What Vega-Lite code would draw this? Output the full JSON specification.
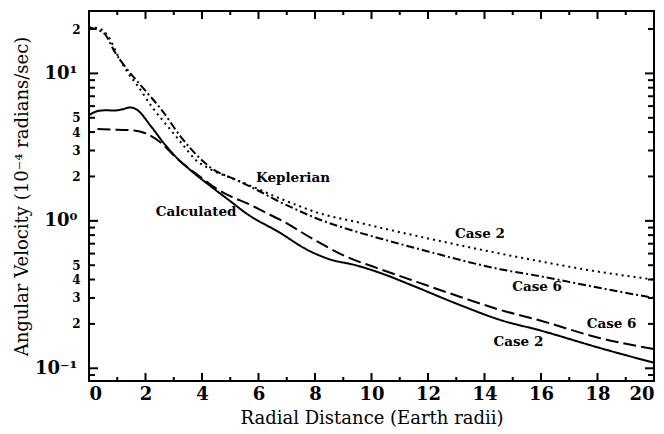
{
  "$schema": "https://vega.github.io/schema/vega-lite/v6.json",
  "width": 565,
  "height": 370,
  "autosize": "none",
  "padding": {"left": 89, "top": 11, "right": 10, "bottom": 53},
  "background": "white",
  "config": {
    "view": {"stroke": "black", "strokeWidth": 2},
    "font": "DejaVu Serif",
    "axis": {"domain": false, "grid": false, "ticks": false, "labelColor": "black", "titleColor": "black", "labelFont": "DejaVu Serif", "titleFont": "DejaVu Serif", "titleFontWeight": "normal"}
  },
  "datasets": {
    "curves": [
      {"series": "Case 2 Keplerian", "r": 0.0, "w": 20.5},
      {"series": "Case 2 Keplerian", "r": 0.32, "w": 20.3},
      {"series": "Case 2 Keplerian", "r": 0.68, "w": 17.8},
      {"series": "Case 2 Keplerian", "r": 1.04, "w": 13.0},
      {"series": "Case 2 Keplerian", "r": 1.39, "w": 10.0},
      {"series": "Case 2 Keplerian", "r": 1.75, "w": 8.1},
      {"series": "Case 2 Keplerian", "r": 2.22, "w": 5.96},
      {"series": "Case 2 Keplerian", "r": 2.69, "w": 4.6},
      {"series": "Case 2 Keplerian", "r": 3.28, "w": 3.36},
      {"series": "Case 2 Keplerian", "r": 3.75, "w": 2.62},
      {"series": "Case 2 Keplerian", "r": 4.3, "w": 2.24},
      {"series": "Case 2 Keplerian", "r": 5.2, "w": 1.9},
      {"series": "Case 2 Keplerian", "r": 6.0, "w": 1.64},
      {"series": "Case 2 Keplerian", "r": 6.6, "w": 1.46},
      {"series": "Case 2 Keplerian", "r": 7.35, "w": 1.28},
      {"series": "Case 2 Keplerian", "r": 8.0, "w": 1.15},
      {"series": "Case 2 Keplerian", "r": 9.59, "w": 0.97},
      {"series": "Case 2 Keplerian", "r": 10.3, "w": 0.9},
      {"series": "Case 2 Keplerian", "r": 12.0, "w": 0.76},
      {"series": "Case 2 Keplerian", "r": 14.55, "w": 0.6},
      {"series": "Case 2 Keplerian", "r": 16.0, "w": 0.53},
      {"series": "Case 2 Keplerian", "r": 18.1, "w": 0.45},
      {"series": "Case 2 Keplerian", "r": 20.0, "w": 0.4},

      {"series": "Case 6 Keplerian", "r": 0.0, "w": 20.5},
      {"series": "Case 6 Keplerian", "r": 0.3, "w": 19.8},
      {"series": "Case 6 Keplerian", "r": 0.57, "w": 18.4},
      {"series": "Case 6 Keplerian", "r": 0.92, "w": 13.9},
      {"series": "Case 6 Keplerian", "r": 1.33, "w": 10.8},
      {"series": "Case 6 Keplerian", "r": 1.98, "w": 7.7},
      {"series": "Case 6 Keplerian", "r": 2.57, "w": 5.66},
      {"series": "Case 6 Keplerian", "r": 3.28, "w": 3.65},
      {"series": "Case 6 Keplerian", "r": 3.87, "w": 2.72},
      {"series": "Case 6 Keplerian", "r": 4.3, "w": 2.3},
      {"series": "Case 6 Keplerian", "r": 5.2, "w": 1.9},
      {"series": "Case 6 Keplerian", "r": 6.0, "w": 1.6},
      {"series": "Case 6 Keplerian", "r": 6.6, "w": 1.39},
      {"series": "Case 6 Keplerian", "r": 7.35, "w": 1.19},
      {"series": "Case 6 Keplerian", "r": 8.0, "w": 1.05},
      {"series": "Case 6 Keplerian", "r": 9.59, "w": 0.83},
      {"series": "Case 6 Keplerian", "r": 10.3, "w": 0.76},
      {"series": "Case 6 Keplerian", "r": 12.0, "w": 0.62},
      {"series": "Case 6 Keplerian", "r": 14.55, "w": 0.47},
      {"series": "Case 6 Keplerian", "r": 16.0, "w": 0.42},
      {"series": "Case 6 Keplerian", "r": 18.1, "w": 0.35},
      {"series": "Case 6 Keplerian", "r": 20.0, "w": 0.3},

      {"series": "Case 6 Calculated", "r": 0.3, "w": 4.2},
      {"series": "Case 6 Calculated", "r": 1.0, "w": 4.15},
      {"series": "Case 6 Calculated", "r": 1.6, "w": 4.1},
      {"series": "Case 6 Calculated", "r": 2.0, "w": 3.93},
      {"series": "Case 6 Calculated", "r": 2.57, "w": 3.36},
      {"series": "Case 6 Calculated", "r": 3.04, "w": 2.73},
      {"series": "Case 6 Calculated", "r": 3.5, "w": 2.3},
      {"series": "Case 6 Calculated", "r": 4.0, "w": 1.95},
      {"series": "Case 6 Calculated", "r": 4.4, "w": 1.71},
      {"series": "Case 6 Calculated", "r": 5.0, "w": 1.47},
      {"series": "Case 6 Calculated", "r": 5.58, "w": 1.32},
      {"series": "Case 6 Calculated", "r": 6.4, "w": 1.1},
      {"series": "Case 6 Calculated", "r": 6.76, "w": 1.02},
      {"series": "Case 6 Calculated", "r": 7.94, "w": 0.75},
      {"series": "Case 6 Calculated", "r": 9.12, "w": 0.57},
      {"series": "Case 6 Calculated", "r": 10.18, "w": 0.48},
      {"series": "Case 6 Calculated", "r": 11.36, "w": 0.4},
      {"series": "Case 6 Calculated", "r": 13.1, "w": 0.307},
      {"series": "Case 6 Calculated", "r": 14.55, "w": 0.249},
      {"series": "Case 6 Calculated", "r": 16.0, "w": 0.21},
      {"series": "Case 6 Calculated", "r": 18.1, "w": 0.16},
      {"series": "Case 6 Calculated", "r": 20.0, "w": 0.135},

      {"series": "Case 2 Calculated", "r": 0.0, "w": 5.2},
      {"series": "Case 2 Calculated", "r": 0.3, "w": 5.55},
      {"series": "Case 2 Calculated", "r": 0.6, "w": 5.62},
      {"series": "Case 2 Calculated", "r": 0.9, "w": 5.6},
      {"series": "Case 2 Calculated", "r": 1.2, "w": 5.72},
      {"series": "Case 2 Calculated", "r": 1.45, "w": 5.88},
      {"series": "Case 2 Calculated", "r": 1.68, "w": 5.7},
      {"series": "Case 2 Calculated", "r": 2.2, "w": 4.36},
      {"series": "Case 2 Calculated", "r": 2.65, "w": 3.36},
      {"series": "Case 2 Calculated", "r": 3.12, "w": 2.66},
      {"series": "Case 2 Calculated", "r": 3.6, "w": 2.2},
      {"series": "Case 2 Calculated", "r": 4.3, "w": 1.72},
      {"series": "Case 2 Calculated", "r": 5.0, "w": 1.36},
      {"series": "Case 2 Calculated", "r": 5.58, "w": 1.12},
      {"series": "Case 2 Calculated", "r": 6.76, "w": 0.83},
      {"series": "Case 2 Calculated", "r": 7.7, "w": 0.64},
      {"series": "Case 2 Calculated", "r": 8.5, "w": 0.55},
      {"series": "Case 2 Calculated", "r": 9.44, "w": 0.5},
      {"series": "Case 2 Calculated", "r": 10.5, "w": 0.43},
      {"series": "Case 2 Calculated", "r": 11.36, "w": 0.37},
      {"series": "Case 2 Calculated", "r": 13.1, "w": 0.27},
      {"series": "Case 2 Calculated", "r": 14.55, "w": 0.213},
      {"series": "Case 2 Calculated", "r": 16.0, "w": 0.18},
      {"series": "Case 2 Calculated", "r": 18.1, "w": 0.137},
      {"series": "Case 2 Calculated", "r": 20.0, "w": 0.109}
    ],
    "labels": [
      {"text": "Keplerian", "r": 7.22, "w": 1.96},
      {"text": "Calculated", "r": 3.79, "w": 1.15},
      {"text": "Case 2", "r": 13.84, "w": 0.817},
      {"text": "Case 6", "r": 15.86, "w": 0.357},
      {"text": "Case 6", "r": 18.5, "w": 0.2},
      {"text": "Case 2", "r": 15.2, "w": 0.151}
    ],
    "yticks": [
      {"v": 20, "kind": "minor"}, {"v": 10, "kind": "major"}, {"v": 9, "kind": "minor"}, {"v": 8, "kind": "minor"},
      {"v": 7, "kind": "minor"}, {"v": 6, "kind": "minor"}, {"v": 5, "kind": "minor"}, {"v": 4, "kind": "minor"},
      {"v": 3, "kind": "minor"}, {"v": 2, "kind": "minor"}, {"v": 1, "kind": "major"}, {"v": 0.9, "kind": "minor"},
      {"v": 0.8, "kind": "minor"}, {"v": 0.7, "kind": "minor"}, {"v": 0.6, "kind": "minor"}, {"v": 0.5, "kind": "minor"},
      {"v": 0.4, "kind": "minor"}, {"v": 0.3, "kind": "minor"}, {"v": 0.2, "kind": "minor"}, {"v": 0.1, "kind": "major"},
      {"v": 0.09, "kind": "minor"}
    ],
    "xticks": [
      {"v": 0, "kind": "major"}, {"v": 1, "kind": "minor"}, {"v": 2, "kind": "major"}, {"v": 3, "kind": "minor"},
      {"v": 4, "kind": "major"}, {"v": 5, "kind": "minor"}, {"v": 6, "kind": "major"}, {"v": 7, "kind": "minor"},
      {"v": 8, "kind": "major"}, {"v": 9, "kind": "minor"}, {"v": 10, "kind": "major"}, {"v": 11, "kind": "minor"},
      {"v": 12, "kind": "major"}, {"v": 13, "kind": "minor"}, {"v": 14, "kind": "major"}, {"v": 15, "kind": "minor"},
      {"v": 16, "kind": "major"}, {"v": 17, "kind": "minor"}, {"v": 18, "kind": "major"}, {"v": 19, "kind": "minor"},
      {"v": 20, "kind": "major"}
    ]
  },
  "layer": [
    {
      "data": {"name": "curves"},
      "mark": {"type": "line", "color": "black", "strokeWidth": 2, "strokeCap": "butt", "interpolate": "monotone", "clip": true},
      "encoding": {
        "x": {
          "field": "r", "type": "quantitative",
          "scale": {"domain": [0, 20], "nice": false, "zero": false},
          "axis": {
            "orient": "bottom",
            "title": "Radial Distance (Earth radii)",
            "titleFontSize": 18, "titlePadding": 6,
            "values": [0,2,4,6,8,10,12,14,16,18,20],
            "labelFontSize": 18, "labelPadding": 4,
            "labelFontWeight": "bold"
          }
        },
        "y": {
          "field": "w", "type": "quantitative",
          "scale": {"type": "log", "domain": [0.082, 26.5], "nice": false},
          "axis": {
            "orient": "left",
            "title": "Angular Velocity (10⁻⁴ radians/sec)",
            "titleFontSize": 18, "titlePadding": 40,
            "values": [20,5,4,3,2,0.5,0.4,0.3,0.2],
            "labelExpr": "datum.value == 20 ? '2' : datum.value >= 2 ? format(datum.value, 'd') : format(datum.value * 10, '.0f')",
            "labelFontSize": 12,
            "labelFontWeight": "bold",
            "labelPadding": 9
          }
        },
        "strokeDash": {
          "field": "series", "type": "nominal",
          "scale": {
            "domain": ["Case 2 Keplerian", "Case 6 Keplerian", "Case 6 Calculated", "Case 2 Calculated"],
            "range": [[2, 4], [8, 3, 2, 3], [13, 5], [1, 0]]
          },
          "legend": null
        }
      }
    },
    {
      "data": {"name": "labels"},
      "mark": {"type": "text", "font": "DejaVu Serif", "fontWeight": "bold", "fontSize": 13.5, "color": "black"},
      "encoding": {
        "x": {"field": "r", "type": "quantitative", "axis": null},
        "y": {"field": "w", "type": "quantitative", "axis": null},
        "text": {"field": "text", "type": "nominal"}
      }
    },
    {
      "data": {"name": "labels"},
      "mark": {"type": "point", "opacity": 0},
      "encoding": {
        "x": {"field": "r", "type": "quantitative", "axis": null},
        "y": {
          "field": "w", "type": "quantitative",
          "axis": {
            "orient": "left", "title": null, "values": [10, 1, 0.1],
            "labelExpr": "datum.value == 10 ? '10¹' : datum.value == 1 ? '10⁰' : '10⁻¹'",
            "labelFontSize": 18, "labelFontWeight": "bold", "labelPadding": 12
          }
        }
      }
    },
    {
      "data": {"name": "yticks"},
      "transform": [{"filter": "datum.kind == 'major'"}],
      "mark": {"type": "tick", "orient": "horizontal", "color": "black", "opacity": 1, "size": 9, "thickness": 2, "xOffset": 4.5},
      "encoding": {
        "y": {"field": "v", "type": "quantitative", "axis": null},
        "x": {"datum": 0, "type": "quantitative", "axis": null}
      }
    },
    {
      "data": {"name": "yticks"},
      "transform": [{"filter": "datum.kind == 'minor'"}],
      "mark": {"type": "tick", "orient": "horizontal", "color": "black", "opacity": 1, "size": 6, "thickness": 2, "xOffset": 3},
      "encoding": {
        "y": {"field": "v", "type": "quantitative", "axis": null},
        "x": {"datum": 0, "type": "quantitative", "axis": null}
      }
    },
    {
      "data": {"name": "yticks"},
      "transform": [{"filter": "datum.kind == 'major'"}],
      "mark": {"type": "tick", "orient": "horizontal", "color": "black", "opacity": 1, "size": 9, "thickness": 2, "xOffset": -4.5},
      "encoding": {
        "y": {"field": "v", "type": "quantitative", "axis": null},
        "x": {"datum": 20, "type": "quantitative", "axis": null}
      }
    },
    {
      "data": {"name": "yticks"},
      "transform": [{"filter": "datum.kind == 'minor'"}],
      "mark": {"type": "tick", "orient": "horizontal", "color": "black", "opacity": 1, "size": 6, "thickness": 2, "xOffset": -3},
      "encoding": {
        "y": {"field": "v", "type": "quantitative", "axis": null},
        "x": {"datum": 20, "type": "quantitative", "axis": null}
      }
    },
    {
      "data": {"name": "xticks"},
      "transform": [{"filter": "datum.kind == 'major'"}],
      "mark": {"type": "tick", "orient": "vertical", "color": "black", "opacity": 1, "size": 8, "thickness": 2, "yOffset": -4},
      "encoding": {
        "x": {"field": "v", "type": "quantitative", "axis": null},
        "y": {"datum": 0.082, "type": "quantitative", "axis": null}
      }
    },
    {
      "data": {"name": "xticks"},
      "transform": [{"filter": "datum.kind == 'minor'"}],
      "mark": {"type": "tick", "orient": "vertical", "color": "black", "opacity": 1, "size": 4, "thickness": 2, "yOffset": -2},
      "encoding": {
        "x": {"field": "v", "type": "quantitative", "axis": null},
        "y": {"datum": 0.082, "type": "quantitative", "axis": null}
      }
    },
    {
      "data": {"name": "xticks"},
      "transform": [{"filter": "datum.kind == 'major'"}],
      "mark": {"type": "tick", "orient": "vertical", "color": "black", "opacity": 1, "size": 8, "thickness": 2, "yOffset": 4},
      "encoding": {
        "x": {"field": "v", "type": "quantitative", "axis": null},
        "y": {"datum": 26.5, "type": "quantitative", "axis": null}
      }
    },
    {
      "data": {"name": "xticks"},
      "transform": [{"filter": "datum.kind == 'minor'"}],
      "mark": {"type": "tick", "orient": "vertical", "color": "black", "opacity": 1, "size": 4, "thickness": 2, "yOffset": 2},
      "encoding": {
        "x": {"field": "v", "type": "quantitative", "axis": null},
        "y": {"datum": 26.5, "type": "quantitative", "axis": null}
      }
    }
  ],
  "resolve": {"axis": {"x": "independent", "y": "independent"}}
}
